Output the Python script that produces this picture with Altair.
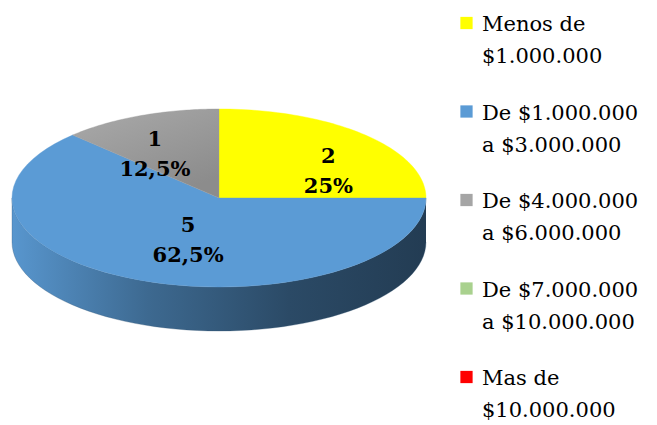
import altair as alt
import pandas as pd

# ---------------- data ----------------
categories = [
    "Menos de\n$1.000.000",
    "De $1.000.000\na $3.000.000",
    "De $4.000.000\na $6.000.000",
    "De $7.000.000\na $10.000.000",
    "Mas de\n$10.000.000",
]
counts = [2, 5, 1, 0, 0]
colors = ["#FFFF00", "#5B9BD5", "#A5A5A5", "#A9D18E", "#FF0000"]

df = pd.DataFrame({
    "idx": list(range(len(categories))),
    "cat": categories,
    "value": counts,
})

# ---------------- geometry (pixels) ----------------
W, H = 641, 417
CX, CY, RX, RY, DEPTH = 219, 198, 207, 89, 44
N = 60
FONT = "DejaVu Serif"

xs = alt.Scale(domain=[8, 8 + W], nice=False, zero=False)
ys = alt.Scale(domain=[8, 8 + H], nice=False, zero=False, reverse=True)


def darken(hexcol, f):
    h = hexcol.lstrip("#")
    r, g, b = (int(h[i:i + 2], 16) for i in (0, 2, 4))
    return "#%02x%02x%02x" % (int(r * f), int(g * f), int(b * f))


base = (
    alt.Chart(df)
    .transform_joinaggregate(total="sum(value)")
    .transform_window(cum="sum(value)", sort=[alt.SortField("idx")], frame=[None, 0])
    .transform_calculate(
        a0="2*PI*(datum.cum-datum.value)/datum.total",
        a1="2*PI*datum.cum/datum.total",
    )
)

layers = []

# sides (front half only)
for i, col in enumerate(colors):
    grad = {
        "gradient": "linear", "x1": 0, "y1": 0, "x2": 1, "y2": 0,
        "stops": [
            {"offset": 0, "color": darken(col, 0.97)},
            {"offset": 0.33, "color": darken(col, 0.68)},
            {"offset": 0.67, "color": darken(col, 0.48)},
            {"offset": 1, "color": darken(col, 0.39)},
        ],
    }
    side = (
        base.transform_filter(f"datum.idx == {i} && datum.value > 0")
        .transform_calculate(s0="max(datum.a0, PI/2)", s1="min(datum.a1, 3*PI/2)")
        .transform_filter("datum.s1 > datum.s0")
        .transform_calculate(s=f"sequence(0, {2 * N + 2})")
        .transform_flatten(["s"])
        .transform_calculate(
            ang=f"datum.s <= {N} ? datum.s0 + (datum.s1-datum.s0)*datum.s/{N} : datum.s1 - (datum.s1-datum.s0)*(datum.s-{N + 1})/{N}",
            dy=f"datum.s <= {N} ? 0 : {DEPTH}",
        )
        .transform_calculate(
            x=f"{CX} + {RX}*sin(datum.ang)",
            y=f"{CY} - {RY}*cos(datum.ang) + datum.dy",
        )
        .mark_line(fill=grad, stroke=darken(col, 0.55), strokeWidth=0.3)
        .encode(
            x=alt.X("x:Q", scale=xs, axis=None),
            y=alt.Y("y:Q", scale=ys, axis=None),
            order="s:Q",
        )
    )
    layers.append(side)

# top faces
for i, col in enumerate(colors):
    if col.upper() == "#A5A5A5":
        fill = {
            "gradient": "linear", "x1": 0, "y1": 0, "x2": 0.6, "y2": 1,
            "stops": [{"offset": 0, "color": "#AAAAAA"}, {"offset": 1, "color": "#8C8C8C"}],
        }
        stroke = "#9C9C9C"
    else:
        fill = col
        stroke = col
    face = (
        base.transform_filter(f"datum.idx == {i} && datum.value > 0")
        .transform_calculate(s=f"sequence(0, {N + 3})")
        .transform_flatten(["s"])
        .transform_calculate(
            ang=f"datum.a0 + (datum.a1-datum.a0)*clamp(datum.s-1, 0, {N})/{N}",
            edge=f"datum.s >= 1 && datum.s <= {N + 1}",
        )
        .transform_calculate(
            x=f"datum.edge ? {CX} + {RX}*sin(datum.ang) : {CX}",
            y=f"datum.edge ? {CY} - {RY}*cos(datum.ang) : {CY}",
        )
        .mark_line(fill=fill, stroke=stroke, strokeWidth=0.4)
        .encode(
            x=alt.X("x:Q", scale=xs, axis=None),
            y=alt.Y("y:Q", scale=ys, axis=None),
            order="s:Q",
        )
    )
    layers.append(face)

# slice labels
labels = (
    base.transform_filter("datum.value > 0")
    .transform_calculate(mid="(datum.a0+datum.a1)/2", half="(datum.a1-datum.a0)/2")
    .transform_calculate(sinc="sin(datum.half)/datum.half")
    .transform_calculate(
        lx=f"{CX} + 0.83*datum.sinc*{RX}*sin(datum.mid)",
        ly=f"{CY} - 0.72*datum.sinc*{RY}*cos(datum.mid)",
        label="datum.value + '\\n' + replace(format(100*datum.value/datum.total, '.3~g'), '.', ',') + '%'",
    )
    .mark_text(font=FONT, fontSize=21, fontWeight="bold", lineBreak="\n",
               lineHeight=30, baseline="middle", align="center", color="black")
    .encode(
        x=alt.X("lx:Q", scale=xs, axis=None),
        y=alt.Y("ly:Q", scale=ys, axis=None),
        text="label:N",
    )
)
layers.append(labels)

# legend
LEG_Y0, LEG_STEP = 31, 88.5
leg = alt.Chart(df).transform_calculate(
    by=f"{LEG_Y0} + datum.idx*{LEG_STEP}",
    sy=f"{LEG_Y0} + datum.idx*{LEG_STEP} - 8",
    sx="466.5",
    tx="482",
)
squares = leg.mark_square(size=150, opacity=1).encode(
    x=alt.X("sx:Q", scale=xs, axis=None),
    y=alt.Y("sy:Q", scale=ys, axis=None),
    fill=alt.Fill("cat:N", scale=alt.Scale(domain=categories, range=colors), legend=None),
)
texts = leg.mark_text(font=FONT, fontSize=21, lineBreak="\n", lineHeight=32,
                      baseline="alphabetic", align="left", color="black").encode(
    x=alt.X("tx:Q", scale=xs, axis=None),
    y=alt.Y("by:Q", scale=ys, axis=None),
    text="cat:N",
)
layers += [squares, texts]

chart = (
    alt.layer(*layers)
    .properties(width=W, height=H, padding=0, autosize=alt.AutoSizeParams(type="none"))
    .configure_view(strokeWidth=0)
)

chart.save("out.html", embed_options={"renderer": "svg", "actions": False})
